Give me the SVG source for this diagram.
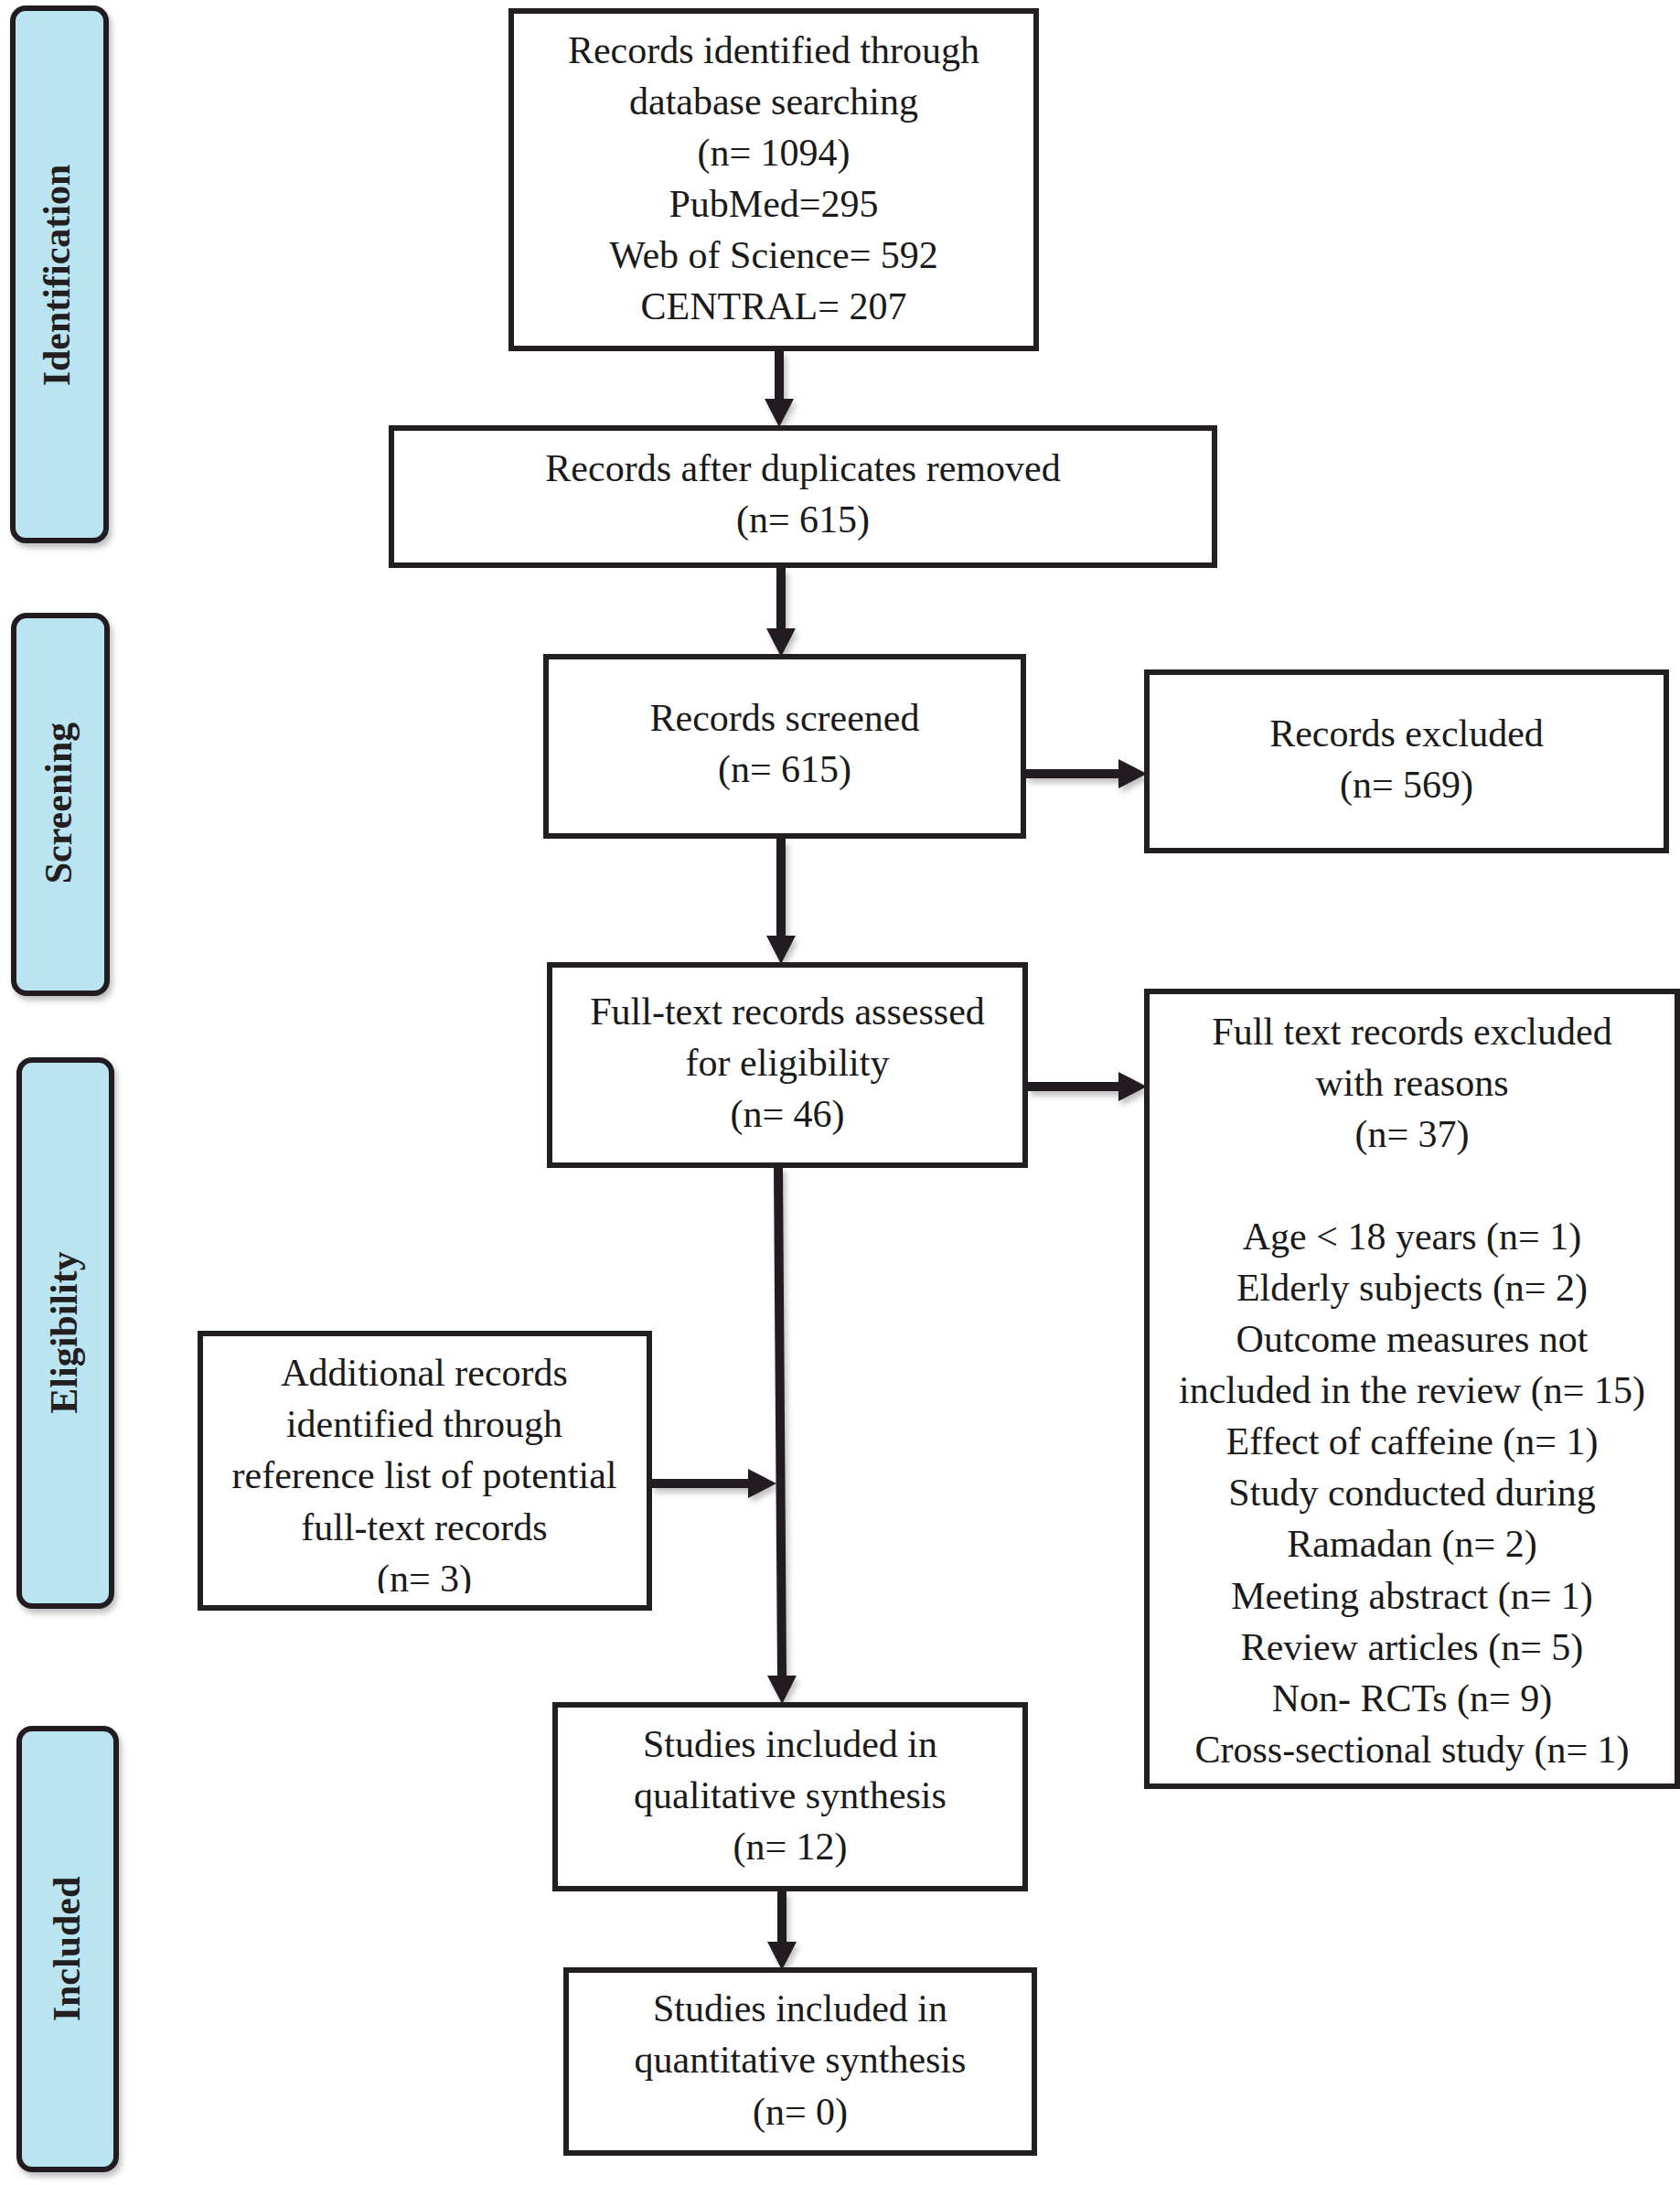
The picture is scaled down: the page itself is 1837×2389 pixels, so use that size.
<svg xmlns="http://www.w3.org/2000/svg" width="1837" height="2389" viewBox="0 0 1837 2389">
<style>
.box{fill:#ffffff;stroke:#231f20;stroke-width:6}
.tab{fill:#bbe4f2;stroke:#231f20;stroke-width:6}
.t{font-family:"Liberation Serif","Times New Roman",serif;font-size:42px;fill:#1a1a1a;text-anchor:middle}
.tl{font-family:"Liberation Serif","Times New Roman",serif;font-size:42px;font-weight:bold;fill:#231f20;text-anchor:middle}
.conn{stroke:#231f20;stroke-width:10;fill:none}
</style>
<defs>
<filter id="sh" x="-20%" y="-20%" width="150%" height="150%">
<feDropShadow dx="3" dy="5" stdDeviation="3" flood-color="#000" flood-opacity="0.25"/>
</filter>
<marker id="ah" markerUnits="userSpaceOnUse" markerWidth="32" markerHeight="34" refX="0" refY="17" orient="auto" viewBox="0 0 32 34">
<path d="M0,1 L31,17 L0,33 Z" fill="#231f20"/>
</marker>
<clipPath id="clipAdd">
<rect x="219" y="1458" width="491" height="284"/>
</clipPath>
</defs>
<rect width="1837" height="2389" fill="#ffffff"/>

<g id="tab-identification">
<rect class="tab" x="14" y="9" width="102" height="582" rx="14" filter="url(#sh)"/>
<text class="tl" transform="translate(76,301) rotate(-90)">Identification</text>
</g>
<g id="tab-screening">
<rect class="tab" x="15" y="673" width="102" height="413" rx="14" filter="url(#sh)"/>
<text class="tl" transform="translate(78,878) rotate(-90)">Screening</text>
</g>
<g id="tab-eligibility">
<rect class="tab" x="21" y="1159" width="101" height="597" rx="14" filter="url(#sh)"/>
<text class="tl" transform="translate(84,1457) rotate(-90)">Eligibility</text>
</g>
<g id="tab-included">
<rect class="tab" x="21" y="1890" width="106" height="482" rx="14" filter="url(#sh)"/>
<text class="tl" transform="translate(87,2131) rotate(-90)">Included</text>
</g>

<g id="connectors" filter="url(#sh)">
<line class="conn" x1="852" y1="384" x2="852" y2="436" marker-end="url(#ah)"/>
<line class="conn" x1="854" y1="621" x2="854" y2="687" marker-end="url(#ah)"/>
<line class="conn" x1="854" y1="917" x2="854" y2="1023" marker-end="url(#ah)"/>
<line class="conn" x1="1122" y1="846" x2="1223" y2="846" marker-end="url(#ah)"/>
<line class="conn" x1="1124" y1="1188" x2="1223" y2="1188" marker-end="url(#ah)"/>
<line class="conn" x1="851" y1="1276" x2="855" y2="1832" marker-end="url(#ah)"/>
<line class="conn" x1="713" y1="1622" x2="818" y2="1622" marker-end="url(#ah)"/>
<line class="conn" x1="855" y1="2068" x2="855" y2="2123" marker-end="url(#ah)"/>
</g>

<g id="node-identified">
<rect class="box" x="559" y="12" width="574" height="369"/>
<text class="t" x="846" y="69">Records identified through</text>
<text class="t" x="846" y="125">database searching</text>
<text class="t" x="846" y="181">(n= 1094)</text>
<text class="t" x="846" y="237">PubMed=295</text>
<text class="t" x="846" y="293">Web of Science= 592</text>
<text class="t" x="846" y="349">CENTRAL= 207</text>
</g>

<g id="node-duplicates">
<rect class="box" x="428" y="468" width="900" height="150"/>
<text class="t" x="878" y="526">Records after duplicates removed</text>
<text class="t" x="878" y="582">(n= 615)</text>
</g>

<g id="node-screened">
<rect class="box" x="597" y="718" width="522" height="196"/>
<text class="t" x="858" y="799">Records screened</text>
<text class="t" x="858" y="855">(n= 615)</text>
</g>

<g id="node-excluded">
<rect class="box" x="1254" y="735" width="568" height="195"/>
<text class="t" x="1538" y="816">Records excluded</text>
<text class="t" x="1538" y="872">(n= 569)</text>
</g>

<g id="node-fulltext">
<rect class="box" x="601" y="1055" width="520" height="219"/>
<text class="t" x="861" y="1120">Full-text records assessed</text>
<text class="t" x="861" y="1176">for eligibility</text>
<text class="t" x="861" y="1232">(n= 46)</text>
</g>

<g id="node-fulltext-excluded">
<rect class="box" x="1254" y="1084" width="580" height="869"/>
<text class="t" x="1544" y="1142">Full text records excluded</text>
<text class="t" x="1544" y="1198">with reasons</text>
<text class="t" x="1544" y="1254">(n= 37)</text>
<text class="t" x="1544" y="1366">Age &lt; 18 years (n= 1)</text>
<text class="t" x="1544" y="1422">Elderly subjects (n= 2)</text>
<text class="t" x="1544" y="1478">Outcome measures not</text>
<text class="t" x="1544" y="1534">included in the review (n= 15)</text>
<text class="t" x="1544" y="1590">Effect of caffeine (n= 1)</text>
<text class="t" x="1544" y="1646">Study conducted during</text>
<text class="t" x="1544" y="1702">Ramadan (n= 2)</text>
<text class="t" x="1544" y="1759">Meeting abstract (n= 1)</text>
<text class="t" x="1544" y="1815">Review articles (n= 5)</text>
<text class="t" x="1544" y="1871">Non- RCTs (n= 9)</text>
<text class="t" x="1544" y="1927">Cross-sectional study (n= 1)</text>
</g>

<g id="node-additional">
<rect class="box" x="219" y="1458" width="491" height="300"/>
<g clip-path="url(#clipAdd)">
<text class="t" x="464" y="1515">Additional records</text>
<text class="t" x="464" y="1571">identified through</text>
<text class="t" x="464" y="1627">reference list of potential</text>
<text class="t" x="464" y="1684">full-text records</text>
<text class="t" x="464" y="1740">(n= 3)</text>
</g>
</g>

<g id="node-qualitative">
<rect class="box" x="607" y="1864" width="514" height="201"/>
<text class="t" x="864" y="1921">Studies included in</text>
<text class="t" x="864" y="1977">qualitative synthesis</text>
<text class="t" x="864" y="2033">(n= 12)</text>
</g>

<g id="node-quantitative">
<rect class="box" x="619" y="2154" width="512" height="200"/>
<text class="t" x="875" y="2210">Studies included in</text>
<text class="t" x="875" y="2266">quantitative synthesis</text>
<text class="t" x="875" y="2323">(n= 0)</text>
</g>
</svg>
